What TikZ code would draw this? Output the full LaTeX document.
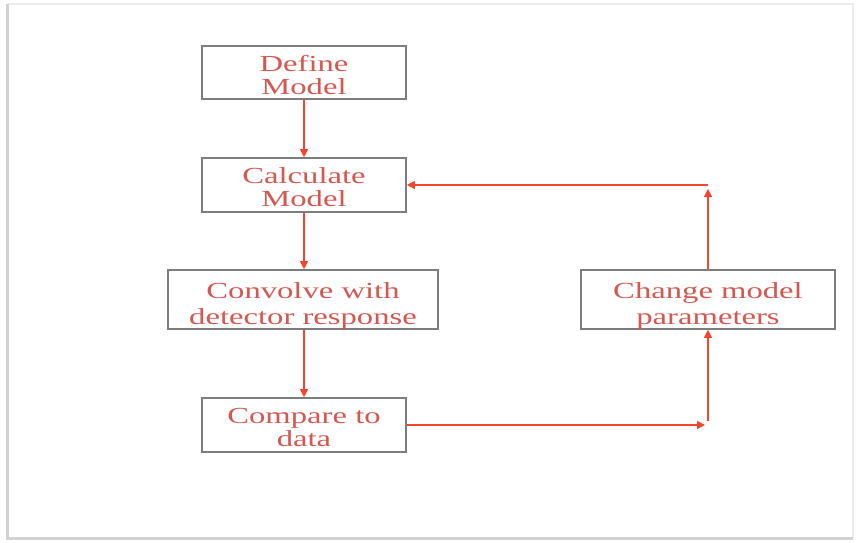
\documentclass[tikz,border=0pt]{standalone}
\usepackage{fontspec}
\setmainfont{Liberation Serif}
\newfontfamily\boxfont[FakeStretch=1.42]{Liberation Serif}
\usetikzlibrary{arrows.meta}
\definecolor{boxtext}{RGB}{212,88,80}
\definecolor{flowred}{RGB}{245,70,45}
\definecolor{boxgray}{RGB}{125,125,125}
% two centred lines, boxed so they sit like the original
\newcommand{\twolines}[3][0pt]{\raisebox{0pt}[23.5pt][26.5pt]{\begin{tabular}[t]{@{}c@{}}#2\\[#1]#3\end{tabular}}}
\begin{document}
\begin{tikzpicture}[x=1pt, y=-1pt,
	stepbox/.style={draw=boxgray, line width=1.6pt, fill=white, inner sep=0pt,
		text=boxtext, font=\boxfont\fontsize{23}{23}\selectfont},
	flow/.style={draw=flowred, line width=1.2pt, -{Triangle[length=8pt,width=8pt]}}]
	\useasboundingbox (0,0) rectangle (858,542);
	%frame
	\fill[white] (0,0) rectangle (858,542);
	\draw[gray!15, line width=2pt] (7,4) -- (853,4) -- (853,538);
	\draw[gray!35, line width=3pt] (7,4) -- (7,538) -- (853,538);

	%left column
	\node[stepbox, minimum width=204, minimum height=53] (define) at (304,72.5){\twolines{Define}{Model}};
	\node[stepbox, minimum width=204, minimum height=54] (calc) at (304,185){\twolines{Calculate}{Model}};
	\node[stepbox, minimum width=270, minimum height=59] (convolve) at (303,299.5){\twolines[3pt]{Convolve with}{detector response}};
	\node[stepbox, minimum width=204, minimum height=54] (compare) at (304,425){\twolines{Compare to}{data}};

	%right column
	\node[stepbox, minimum width=254, minimum height=59] (change) at (708,299.5){\twolines[3pt]{Change model}{parameters}};

	%loop corners
	\coordinate (lowin) at (705,425);
	\coordinate (lowout) at (708,421);
	\coordinate (upin) at (708,189);
	\coordinate (upout) at (708,185);

	\draw[flow] (define.south -| calc.north) -- (calc.north);
	\draw[flow] (calc.south) -- (calc.south |- convolve.north);
	\draw[flow] (calc.south |- convolve.south) -- (compare.north);
	\draw[flow] (compare.east) -- (lowin);
	\draw[flow] (lowout) -- (change.south);
	\draw[flow] (change.north) -- (upin);
	\draw[flow] (upout) -- (calc.east);
\end{tikzpicture}
\end{document}
